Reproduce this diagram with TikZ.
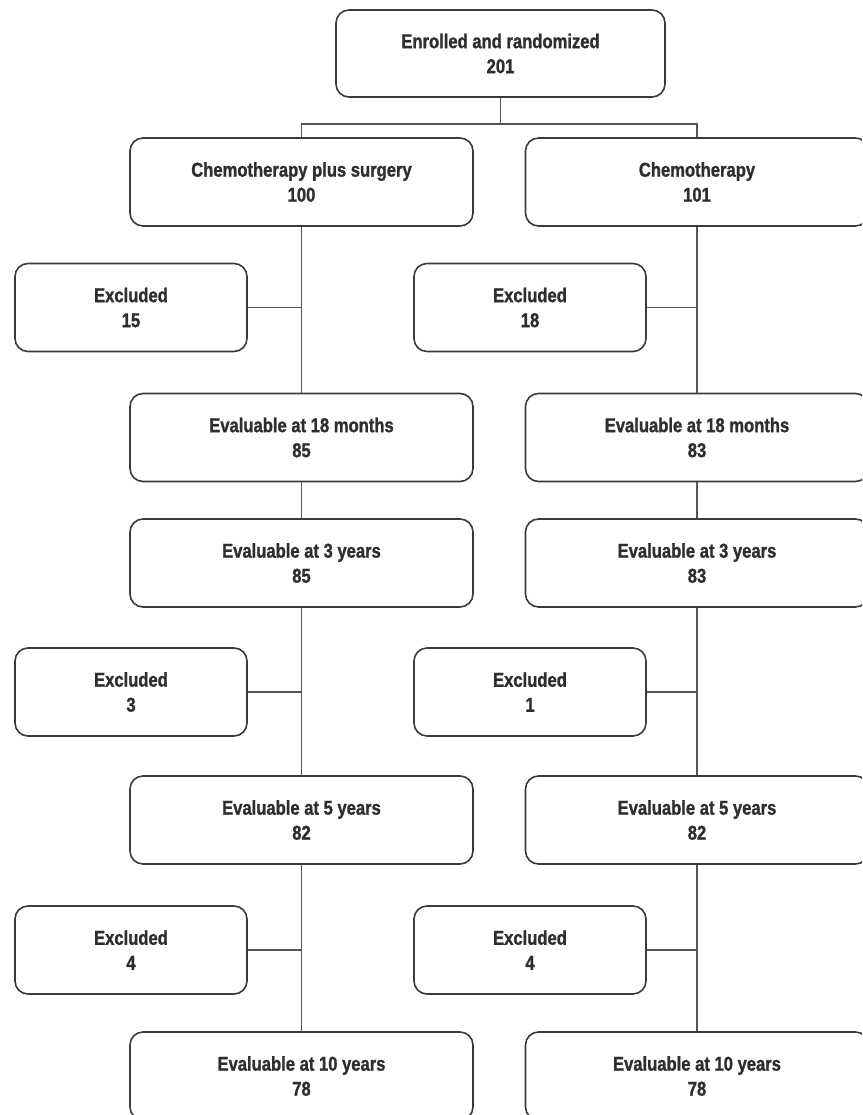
\documentclass[tikz,border=0pt]{standalone}
\usepackage{fontspec}
\setmainfont{Liberation Sans}[FakeStretch=0.83, BoldFeatures={FakeBold=1.2}]
\usepackage{tikz}
\usetikzlibrary{calc}
\usetikzlibrary{positioning}
\definecolor{boxline}{HTML}{3A3A3A}
\definecolor{linkline}{HTML}{555555}
\definecolor{boxtext}{HTML}{2E2E2E}

\begin{document}
\begin{tikzpicture}[x=1pt, y=-1pt,
        font=\bfseries\fontsize{20}{25}\selectfont,
        stage/.style={draw=boxline, line width=1.6pt, rounded corners=13pt, text=boxtext,
            align=center, minimum width=343pt, minimum height=88pt, inner sep=0pt},
        excl/.style={stage, minimum width=232pt},
        link/.style={draw=linkline, line width=1.8pt}]
    \useasboundingbox (0,0) rectangle (862,1115);
    \clip (0,0) rectangle (862,1115);
    \node[stage, minimum width=329pt, minimum height=87pt] (enrolled) at (500.5,53.5) {Enrolled and randomized\\201};
    \coordinate (split) at (500.5,124);
    % left arm
    \node[stage] (surgA) at (301.5,182) {Chemotherapy plus surgery\\100};
    \node[excl] (surgX1) at (131,307.5) {Excluded\\15};
    \node[stage] (surg18m) at (301.5,437.5) {Evaluable at 18 months\\85};
    \node[stage] (surg3y) at (301.5,563) {Evaluable at 3 years\\85};
    \node[excl] (surgX2) at (131,692) {Excluded\\3};
    \node[stage] (surg5y) at (301.5,820) {Evaluable at 5 years\\82};
    \node[excl] (surgX3) at (131,950) {Excluded\\4};
    \node[stage] (surg10y) at (301.5,1076) {Evaluable at 10 years\\78};
    % right arm
    \node[stage] (chemA) at (697,182) {Chemotherapy\\101};
    \node[excl] (chemX1) at (530,307.5) {Excluded\\18};
    \node[stage] (chem18m) at (697,437.5) {Evaluable at 18 months\\83};
    \node[stage] (chem3y) at (697,563) {Evaluable at 3 years\\83};
    \node[excl] (chemX2) at (530,692) {Excluded\\1};
    \node[stage] (chem5y) at (697,820) {Evaluable at 5 years\\82};
    \node[excl] (chemX3) at (530,950) {Excluded\\4};
    \node[stage] (chem10y) at (697,1076) {Evaluable at 10 years\\78};

    \draw[link] (enrolled) -- (split);
    \draw[link] (surgA.north) |- (split) -| (chemA.north);
    \foreach \arm in {surg,chem} {
        \draw[link] (\arm A) -- (\arm 18m);
        \draw[link] (\arm 18m) -- (\arm 3y);
        \draw[link] (\arm 3y) -- (\arm 5y);
        \draw[link] (\arm 5y) -- (\arm 10y);
        \foreach \k in {1,2,3}
            \draw[link] (\arm X\k.east) -- (\arm X\k.east -| \arm A.south);
    }
\end{tikzpicture}
\end{document}
